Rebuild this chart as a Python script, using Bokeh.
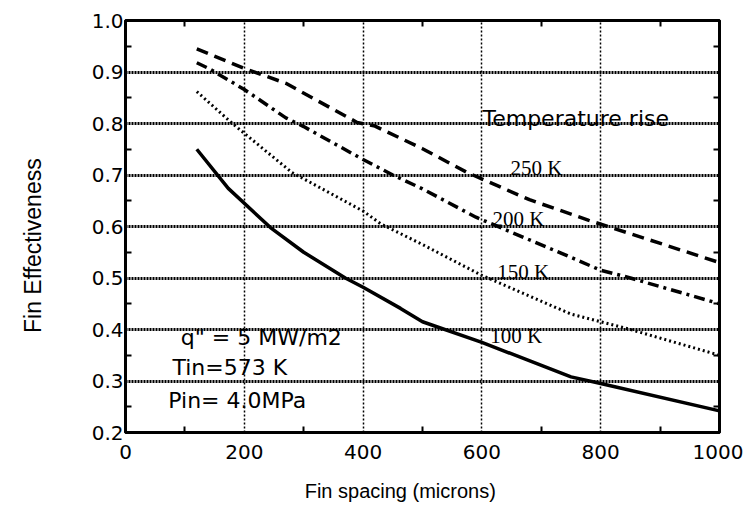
from bokeh.plotting import figure
from bokeh.models import Range1d, FixedTicker, LinearAxis, NumeralTickFormatter
from bokeh.core.properties import value
from bokeh.embed import file_html
from bokeh.resources import INLINE

# Fin spacing (microns) vs fin effectiveness, for several temperature rises
x_250 = [120, 200, 270, 390, 420, 500, 575, 680, 780, 1000]
y_250 = [0.945, 0.907, 0.878, 0.802, 0.795, 0.751, 0.705, 0.652, 0.612, 0.53]

x_200 = [120, 140, 200, 270, 300, 400, 450, 500, 590, 750, 800, 850, 1000]
y_200 = [0.918, 0.907, 0.866, 0.811, 0.794, 0.730, 0.700, 0.673, 0.618, 0.540, 0.515, 0.500, 0.450]

x_150 = [120, 180, 280, 400, 430, 500, 600, 750, 800, 850, 1000]
y_150 = [0.862, 0.800, 0.705, 0.630, 0.605, 0.565, 0.505, 0.430, 0.415, 0.400, 0.350]

x_100 = [120, 173, 244, 300, 370, 400, 463, 500, 600, 750, 800, 1000]
y_100 = [0.750, 0.674, 0.598, 0.550, 0.500, 0.482, 0.441, 0.415, 0.375, 0.308, 0.295, 0.242]

x_ticks = [0, 200, 400, 600, 800, 1000]
x_minor = [100, 300, 500, 700, 900]
y_ticks = [0.2, 0.3, 0.4, 0.5, 0.6, 0.7, 0.8, 0.9, 1.0]
y_minor = [0.25, 0.35, 0.45, 0.55, 0.65, 0.75, 0.85, 0.95]

curve_labels = ["250 K", "200 K", "150 K", "100 K"]
curve_label_x = [648, 618, 626, 614]
curve_label_y = [0.713, 0.6155, 0.511, 0.388]

note_texts = ["Temperature rise", 'q" = 5 MW/m2', "Tin=573 K", "Pin= 4.0MPa"]
note_x = [601, 93, 79, 72]
note_y = [0.81, 0.3845, 0.326, 0.262]

SANS = "DejaVu Sans"
TITLE_FONT = "Liberation Sans"
NB = "\u00a0"

p = figure(width=743, height=521, output_backend="svg", toolbar_location=None,
           x_range=Range1d(0, 1000), y_range=Range1d(0.2, 1.0),
           min_border_left=125, min_border_right=24, min_border_top=20, min_border_bottom=89,
           x_axis_label="Fin spacing (microns)" + NB * 8,
           y_axis_label="Fin  Effectiveness" + NB * 5)
p.background_fill_color = "white"
p.border_fill_color = "white"
p.outline_line_color = "black"
p.outline_line_width = 3

xt = FixedTicker(ticks=x_ticks, minor_ticks=x_minor)
yt = FixedTicker(ticks=y_ticks, minor_ticks=y_minor)

for ax in p.xaxis:
    ax.ticker = xt
for ax in p.yaxis:
    ax.ticker = yt
    ax.formatter = NumeralTickFormatter(format="0.0")

def style_axis(ax):
    ax.axis_line_width = 3
    ax.axis_line_color = "black"
    ax.major_tick_in = 0
    ax.major_tick_out = 0
    ax.minor_tick_in = 6
    ax.minor_tick_out = 0
    ax.minor_tick_line_width = 2
    ax.minor_tick_line_color = "black"

style_axis(p.xaxis[0])
style_axis(p.yaxis[0])
for ax in (p.xaxis[0], p.yaxis[0]):
    ax.major_label_text_font = SANS
    ax.major_label_text_font_size = "20px"
    ax.major_label_text_color = "black"
    ax.axis_label_text_font = TITLE_FONT
    ax.axis_label_text_font_style = "normal"
    ax.axis_label_text_color = "black"
p.xaxis[0].major_label_standoff = 12
p.yaxis[0].major_label_standoff = 2
p.xaxis[0].axis_label_text_font_size = "20px"
p.yaxis[0].axis_label_text_font_size = "23px"
p.xaxis[0].axis_label_standoff = 18
p.yaxis[0].axis_label_standoff = 43

# top and right frame edges: only inward minor ticks, no labels
top = LinearAxis(ticker=FixedTicker(ticks=[], minor_ticks=x_minor))
right = LinearAxis(ticker=FixedTicker(ticks=[], minor_ticks=y_minor))
style_axis(top)
style_axis(right)
p.add_layout(top, "above")
p.add_layout(right, "right")

p.xgrid.ticker = xt
p.ygrid.ticker = yt
p.xgrid.grid_line_color = "black"
p.xgrid.grid_line_width = 1.5
p.xgrid.grid_line_dash = "2 2"
p.ygrid.grid_line_color = "black"
p.ygrid.grid_line_width = 3
p.ygrid.grid_line_dash = "2 1"

p.line(x_250, y_250, line_color="black", line_width=3.5, line_dash="12 7")
p.line(x_200, y_200, line_color="black", line_width=3.5, line_dash="11 5 3 5")
p.line(x_150, y_150, line_color="black", line_width=3, line_dash="2 3")
p.line(x_100, y_100, line_color="black", line_width=3.5)

p.text(x=curve_label_x, y=curve_label_y, text=curve_labels,
       text_font=value("Liberation Serif"), text_font_size="21px",
       text_color="black", text_baseline="alphabetic", text_align="left")
p.text(x=note_x, y=note_y, text=note_texts,
       text_font=value(SANS), text_font_size="22px",
       text_color="black", text_baseline="alphabetic", text_align="left")

open("out.html", "w").write(file_html(p, INLINE))
